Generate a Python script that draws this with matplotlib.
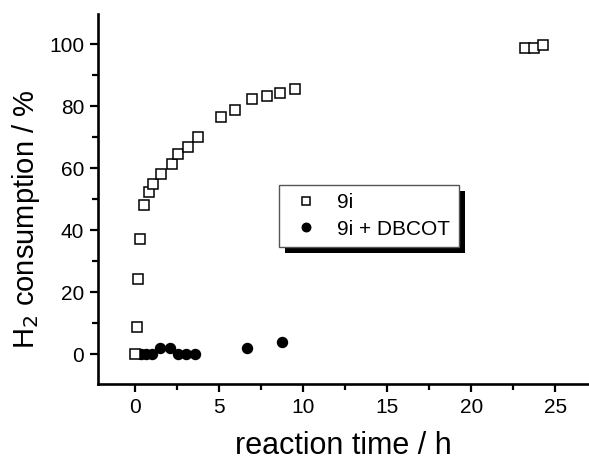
import matplotlib
matplotlib.use("Agg")
import matplotlib.pyplot as plt
from matplotlib.patches import Rectangle

plt.rcParams['font.family'] = ['Liberation Sans', 'DejaVu Sans']

# 9i
t_9i = [0.0, 0.1, 0.18, 0.3, 0.53, 0.85, 1.07, 1.54, 2.2, 2.57, 3.15, 3.76,
        5.14, 5.93, 6.98, 7.83, 8.65, 9.54, 23.2, 23.74, 24.29]
h2_9i = [0.0, 8.9, 24.2, 37.2, 48.2, 52.5, 54.8, 58.1, 61.4, 64.6, 66.9, 70.2,
         76.6, 78.8, 82.3, 83.3, 84.4, 85.5, 98.9, 98.9, 99.7]

# 9i + DBCOT
t_dbcot = [0.36, 0.65, 1.0, 1.48, 2.1, 2.57, 3.03, 3.56, 6.69, 8.76]
h2_dbcot = [0.0, 0.0, 0.0, 2.0, 2.0, 0.0, 0.0, 0.0, 1.9, 3.9]

fig = plt.figure(figsize=(5.89, 4.62), dpi=100)
ax = fig.add_axes([98/589, 1 - 384.3/462, 1 - 98/589, 370.3/462])

ax.plot(t_dbcot, h2_dbcot, 'o', color='black', markersize=7.2, label='9i + DBCOT', zorder=2)
ax.plot(t_9i, h2_9i, 's', mfc='white', mec='black', mew=1.1, markersize=7.2, label='9i', zorder=3)

ax.set_xlim(-2.2, 27.0)
ax.set_ylim(-9.7, 109.8)
ax.set_xticks([0, 5, 10, 15, 20, 25])
ax.set_xticks([2.5, 7.5, 12.5, 17.5, 22.5], minor=True)
ax.set_yticks([0, 20, 40, 60, 80, 100])
ax.set_yticks([10, 30, 50, 70, 90], minor=True)

for s in ['top', 'right']:
    ax.spines[s].set_visible(False)
for s in ['left', 'bottom']:
    ax.spines[s].set_linewidth(1.9)

ax.tick_params(which='major', direction='out', length=6, width=1.6, labelsize=15, pad=4)
ax.tick_params(which='minor', direction='out', length=4, width=1.6)

ax.set_xlabel('reaction time / h', fontsize=22)
ax.set_ylabel('H$_2$ consumption / %', fontsize=21)
ax.xaxis.set_label_coords(0.50, -0.125)
ax.yaxis.set_label_coords(-0.115, 0.445)

handles, labels = ax.get_legend_handles_labels()
leg = ax.legend(handles[::-1], labels[::-1], loc='upper left',
                bbox_to_anchor=(279/589, 1 - 185/462), bbox_transform=fig.transFigure,
                fontsize=15, frameon=True, fancybox=False, edgecolor='#555555',
                framealpha=1, borderpad=0.4, handletextpad=0.65, labelspacing=0.35,
                handlelength=1.75, borderaxespad=0, markerscale=0.85)
leg.get_frame().set_linewidth(1.0)
leg.set_zorder(6)

# solid black drop shadow behind the legend box
fig.canvas.draw()
bb = leg.get_window_extent()
shadow = Rectangle((bb.x0 + 6, bb.y0 - 6), bb.width, bb.height, transform=None,
                   facecolor='black', edgecolor='none', zorder=5, clip_on=False)
ax.add_artist(shadow)

fig.savefig('out.png', dpi=100)
